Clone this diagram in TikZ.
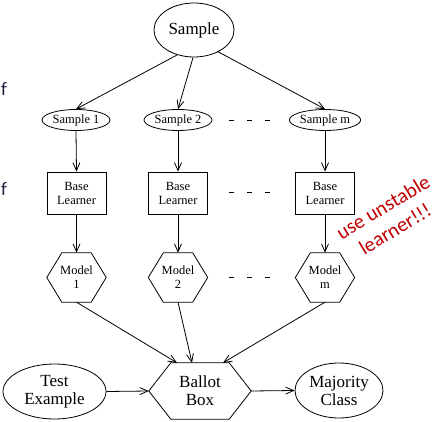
\documentclass[tikz,border=0pt]{standalone}
\usepackage{fontspec}
\setmainfont{Liberation Serif}
\newfontfamily\calib{Carlito}
\usetikzlibrary{shapes.geometric,arrows.meta}
\definecolor{annot}{HTML}{C00000}
\definecolor{slidetext}{HTML}{202040}
\tikzset{
  ln/.style={line width=0.8pt},
  arr/.style={ln,-{Straight Barb[length=8pt,width=7pt,line width=0.8pt]}},
  ell/.style={ln,draw,ellipse,inner sep=0pt},
  bigell/.style={ell,font=\fontsize{17}{18}\selectfont,align=center},
  smallell/.style={ell,minimum width=68pt,minimum height=21pt,font=\fontsize{12.5}{14}\selectfont},
  learnbox/.style={ln,draw,rectangle,minimum width=59pt,minimum height=42pt,inner sep=0pt,align=center,font=\fontsize{12.5}{14}\selectfont},
  hexbox/.style={rectangle,minimum width=59pt,minimum height=49pt,inner sep=0pt,align=center,font=\fontsize{12.5}{14}\selectfont},
  dots/.style={ln,dash pattern=on 5pt off 13pt},
  redtext/.style={text=annot,font=\calib\fontsize{20.5}{23}\selectfont,rotate=31,inner sep=0pt},
}
\begin{document}
\begin{tikzpicture}[x=1pt,y=-1pt]
\useasboundingbox (0,0) rectangle (436,422);
% nodes
\node[bigell,minimum width=80pt,minimum height=54pt] (S) at (194,30) {Sample};
\node[smallell] (s1) at (76,120) {Sample 1};
\node[smallell] (s2) at (178,120) {Sample 2};
\node[smallell] (sm) at (325,120) {Sample m};
\node[learnbox] (b1) at (76.5,193) {Base\\Learner};
\node[learnbox] (b2) at (178,193) {Base\\Learner};
\node[learnbox] (bm) at (325,193) {Base\\Learner};
\node[hexbox] (m1) at (76.5,277.5) {Model\\1};
\node[hexbox] (m2) at (178,277.5) {Model\\2};
\node[hexbox] (mm) at (325,277.5) {Model\\m};
\node[rectangle,minimum width=102pt,minimum height=56pt,inner sep=0pt,align=center,font=\fontsize{17}{18}\selectfont] (ballot) at (200,391) {Ballot\\Box};
\node[bigell,minimum width=103pt,minimum height=55pt] (test) at (54.5,391.5) {Test\\Example};
\node[bigell,minimum width=88pt,minimum height=55pt] (maj) at (339,390.5) {Majority\\Class};
% hexagons
\foreach \n/\d in {m1/15,m2/15,mm/15,ballot/22}{
  \draw[ln] (\n.west) -- ([xshift=\d pt]\n.north west) -- ([xshift=-\d pt]\n.north east)
    -- (\n.east) -- ([xshift=-\d pt]\n.south east) -- ([xshift=\d pt]\n.south west) -- cycle;
}
% connectors
\draw[arr] (S.236) -- (s1.north);
\draw[arr] (S.268) -- (s2.north);
\draw[arr] (S.318) -- (sm.north);
\foreach \i in {1,2,m}{
  \draw[arr] (s\i.south) -- (b\i.north);
  \draw[arr] (b\i.south) -- (m\i.north);
}
\draw[arr] (m1.south) -- ([xshift=-23pt]ballot.north);
\draw[arr] (m2.south) -- ([xshift=-8pt]ballot.north);
\draw[arr] (mm.south) -- ([xshift=23pt]ballot.north);
\draw[arr] (test.east) -- (ballot.west);
\draw[arr] (ballot.east) -- (maj.west);
% dashes
\coordinate (d1a) at (229,120); \coordinate (d1b) at (272,120);
\coordinate (d2a) at (229,192); \coordinate (d2b) at (272,192);
\coordinate (d3a) at (229,277); \coordinate (d3b) at (272,277);
\draw[dots] (d1a) -- (d1b);
\draw[dots] (d2a) -- (d2b);
\draw[dots] (d3a) -- (d3b);
% annotations
\node[redtext] (note1) at (383,207) {use unstable};
\node[redtext] (note2) at (395,229) {learner!!!};
\node[text=slidetext,font=\calib\fontsize{19}{20}\selectfont,anchor=west,inner sep=0pt] (f1) at (1,89) {f};
\node[text=slidetext,font=\calib\fontsize{19}{20}\selectfont,anchor=west,inner sep=0pt] (f2) at (1,189) {f};
\end{tikzpicture}
\end{document}
